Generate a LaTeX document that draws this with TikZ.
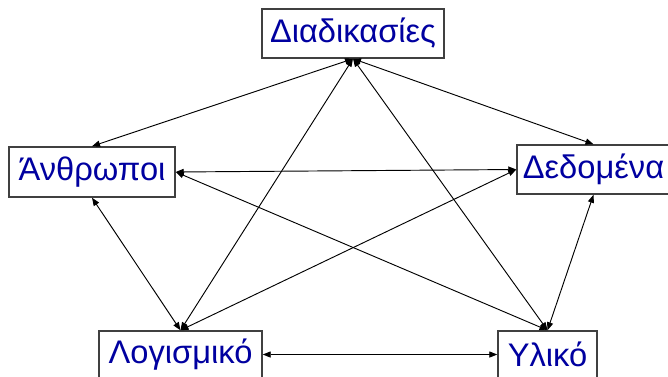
\documentclass[tikz,border=0pt]{standalone}
\usepackage{fontspec}
\setmainfont{Liberation Sans}
\usetikzlibrary{arrows.meta}
\definecolor{txtblue}{HTML}{0000A0}
\definecolor{boxgray}{HTML}{404040}
\tikzset{
  box/.style={draw=boxgray, line width=1.1pt, fill=white, text=txtblue, inner sep=0pt,
    font=\fontsize{24.5}{28}\selectfont},
  link/.style={draw=black, line width=0.7pt, {Triangle[length=6pt,width=4.6pt]}-{Triangle[length=6pt,width=4.6pt]}, shorten <=0pt, shorten >=0pt}
}
\begin{document}
\begin{tikzpicture}[x=0.75pt,y=-0.75pt]
\useasboundingbox (0,0) rectangle (668,376);
\node[box, minimum width=182*0.75pt, minimum height=49*0.75pt] (dia) at (353,33.5) {Διαδικασίες};
\node[box, minimum width=166*0.75pt, minimum height=50*0.75pt] (anth) at (92,172) {Άνθρωποι};
\node[box, minimum width=153*0.75pt, minimum height=49*0.75pt] (ded) at (593.5,169.5) {Δεδομένα};
\node[box, minimum width=163*0.75pt, minimum height=47*0.75pt] (log) at (180.5,354.5) {Λογισμικό};
\node[box, minimum width=99*0.75pt, minimum height=47*0.75pt] (yl) at (547.5,354.5) {Υλικό};
\draw[link] (dia.south) -- (anth.north);
\draw[link] (dia.south) -- (ded.north);
\draw[link] (dia.south) -- (log.north);
\draw[link] (dia.south) -- (yl.north);
\draw[link] (anth.east) -- (ded.west);
\draw[link] (anth.east) -- (yl.north);
\draw[link] (anth.south) -- (log.north);
\draw[link] (log.north) -- (ded.west);
\draw[link] (ded.south) -- (yl.north);
\draw[link] (log.east) -- (yl.west);
\end{tikzpicture}
\end{document}
